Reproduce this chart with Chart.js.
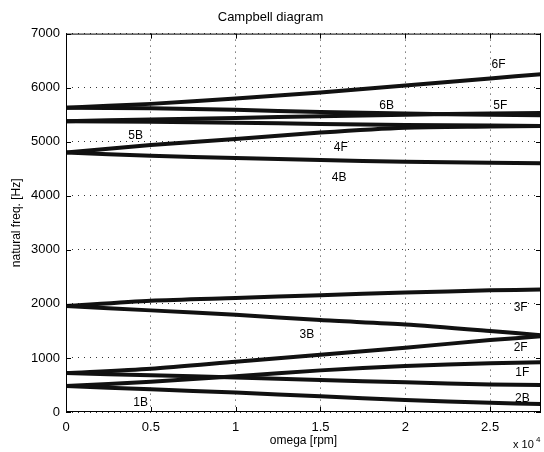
<!DOCTYPE html>
<html>
<head>
<meta charset="utf-8">
<script src="https://cdn.jsdelivr.net/npm/chart.js@4/dist/chart.umd.min.js"></script>
<style>
  body { margin: 0; background: #fff; }
  #wrap { width: 544px; height: 452px; }
</style>
</head>
<body>
<div id="wrap"><canvas id="campbell" width="544" height="452"></canvas></div>
<script>
// rotor speed (rpm) and natural frequencies (Hz)
const omega = [0, 5000, 10000, 15000, 20000, 25000, 28000]
const f6F = [5630, 5700, 5800, 5910, 6040, 6170, 6250]
const f6B = [5630, 5620, 5590, 5550, 5520, 5500, 5490]
const f5F = [5380, 5410, 5440, 5470, 5500, 5520, 5530]
const f5B = [5380, 5370, 5350, 5330, 5310, 5300, 5290]
const f4F = [4800, 4940, 5050, 5170, 5260, 5280, 5290]
const f4B = [4800, 4740, 4700, 4660, 4630, 4610, 4600]
const f3F = [1960, 2060, 2110, 2160, 2210, 2250, 2265]
const f3B = [1960, 1880, 1800, 1700, 1620, 1500, 1420]
const f2F = [720, 800, 930, 1060, 1190, 1330, 1400]
const f2B = [720, 680, 640, 590, 550, 510, 500]
const f1F = [480, 560, 660, 770, 850, 900, 920]
const f1B = [480, 420, 360, 290, 220, 170, 150]

const modeNames = ['6F', '6B', '5F', '5B', '4F', '4B', '3F', '3B', '2F', '1F', '2B', '1B']
const modeSeries = [f6F, f6B, f5F, f5B, f4F, f4B, f3F, f3B, f2F, f1F, f2B, f1B]

const xTicks = [0, 5000, 10000, 15000, 20000, 25000]
const yTicks = [0, 1000, 2000, 3000, 4000, 5000, 6000, 7000]

// where the mode names are written, in data units (omega, freq)
const labelSpots = [
    ['6F', 25500, 6430], ['6B', 18900, 5670], ['5F', 25600, 5670],
    ['5B', 4100, 5120], ['4F', 16200, 4890], ['4B', 16100, 4340],
    ['3F', 26800, 1930], ['3B', 14200, 1430], ['2F', 26800, 1190],
    ['1F', 26900, 730], ['2B', 26900, 250], ['1B', 4400, 170]
]

const FONT = '"Liberation Sans", Arial, sans-serif'

const datasets = modeSeries.map((vals, i) => ({
    label: modeNames[i],
    data: omega.map((w, k) => ({x: w, y: vals[k]})),
    borderColor: '#111',
    backgroundColor: '#111',
    borderWidth: 4,
    pointRadius: 0,
    tension: 0.25
}))

// box, inward ticks, mode names and the x10^4 exponent, MATLAB style
const matlabFrame = {
    id: 'matlabFrame',
    afterDatasetsDraw(chart) {
        const ctx = chart.ctx
        const a = chart.chartArea
        const xs = chart.scales.x
        const ys = chart.scales.y
        ctx.save()
        ctx.strokeStyle = '#000'
        ctx.lineWidth = 1
        ctx.strokeRect(a.left + 0.5, a.top + 0.5, a.right - a.left - 1, a.bottom - a.top - 1)
        ctx.beginPath()
        xTicks.forEach(v => {
            const px = Math.round(xs.getPixelForValue(v)) + 0.5
            ctx.moveTo(px, a.bottom); ctx.lineTo(px, a.bottom - 5)
            ctx.moveTo(px, a.top); ctx.lineTo(px, a.top + 5)
        })
        yTicks.forEach(v => {
            const py = Math.round(ys.getPixelForValue(v)) + 0.5
            ctx.moveTo(a.left, py); ctx.lineTo(a.left + 5, py)
            ctx.moveTo(a.right, py); ctx.lineTo(a.right - 5, py)
        })
        ctx.stroke()

        ctx.fillStyle = '#000'
        ctx.font = '12px ' + FONT
        ctx.textAlign = 'center'
        ctx.textBaseline = 'middle'
        labelSpots.forEach(([txt, w, f]) => {
            ctx.fillText(txt, xs.getPixelForValue(w), ys.getPixelForValue(f))
        })

        ctx.textAlign = 'left'
        ctx.textBaseline = 'alphabetic'
        ctx.font = '11px ' + FONT
        ctx.fillText('x 10', a.right - 28, a.bottom + 36)
        ctx.font = '8px ' + FONT
        ctx.fillText('4', a.right - 5, a.bottom + 30)
        ctx.restore()
    }
}

new Chart(document.getElementById('campbell'), {
    type: 'line',
    data: {datasets: datasets},
    options: {
        responsive: false,
        animation: false,
        layout: {padding: {left: 0, right: 3, top: 0, bottom: 0}},
        plugins: {
            legend: {display: false},
            tooltip: {enabled: false},
            title: {
                display: true,
                text: 'Campbell diagram',
                color: '#000',
                font: {family: FONT, size: 13, weight: 'normal'},
                padding: {top: 10, bottom: 8}
            }
        },
        scales: {
            x: {
                type: 'linear',
                min: 0,
                max: 28000,
                afterBuildTicks: s => { s.ticks = xTicks.map(v => ({value: v})) },
                afterFit: s => { s.height = 40 },
                ticks: {
                    color: '#000',
                    padding: 8,
                    font: {family: FONT, size: 13},
                    callback: v => String(v / 10000)
                },
                grid: {color: '#333', drawTicks: false, lineWidth: 1},
                border: {display: false, dash: [1, 5]},
                title: {
                    display: true,
                    text: 'omega [rpm]',
                    color: '#000',
                    font: {family: FONT, size: 12},
                    padding: {top: 0, bottom: 4}
                }
            },
            y: {
                min: 0,
                max: 7000,
                afterBuildTicks: s => { s.ticks = yTicks.map(v => ({value: v})) },
                afterFit: s => { s.width = 66 },
                ticks: {
                    color: '#000',
                    padding: 6,
                    font: {family: FONT, size: 13},
                    callback: v => String(v)
                },
                grid: {color: '#333', drawTicks: false, lineWidth: 1},
                border: {display: false, dash: [1, 5]},
                title: {
                    display: true,
                    text: 'natural freq. [Hz]',
                    color: '#000',
                    font: {family: FONT, size: 12},
                    padding: {top: 9, bottom: 0}
                }
            }
        }
    },
    plugins: [matlabFrame]
})
</script>
</body>
</html>
